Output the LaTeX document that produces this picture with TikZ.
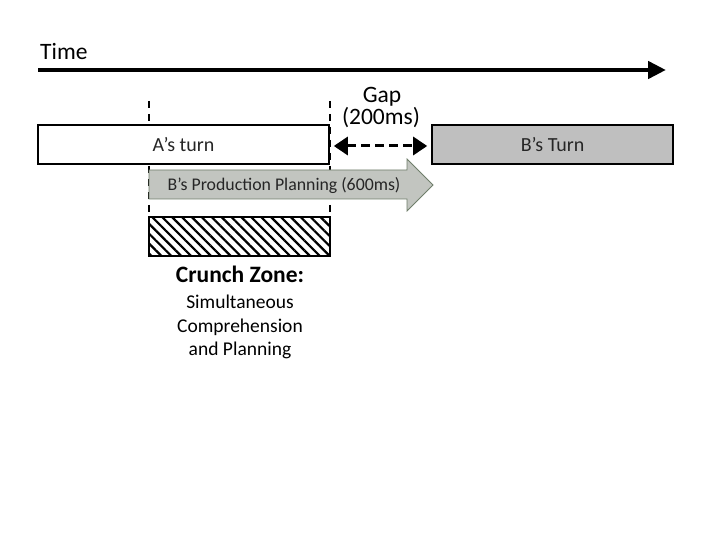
\documentclass[tikz,border=0pt]{standalone}
\usepackage{fontspec}
\setmainfont{Carlito}
\usetikzlibrary{arrows.meta,patterns.meta}
\definecolor{turngray}{HTML}{BFBFBF}
\definecolor{planfill}{HTML}{C2C5C0}
\definecolor{planedge}{HTML}{6F7E6A}
\definecolor{lighttext}{HTML}{262626}
\tikzset{
  turnbox/.style={draw=black, line width=1.6pt, minimum height=39pt, inner sep=0pt, text=lighttext, font=\fontsize{20}{24}\selectfont},
  guide/.style={draw=black, line width=1.4pt, dash pattern=on 7pt off 6pt},
  timearrow/.style={line width=4.5pt, -{Triangle[length=18pt,width=17pt]}},
  gaparrow/.style={line width=3pt, dash pattern=on 9pt off 5pt, {Triangle[length=14pt,width=18pt]}-{Triangle[length=14pt,width=18pt]}},
  bigtext/.style={font=\fontsize{23.5}{28}\selectfont, inner sep=0pt},
  smalltext/.style={font=\fontsize{19.5}{23.5}\selectfont, inner sep=0pt, align=center},
}
\begin{document}
\begin{tikzpicture}[x=1pt,y=-1pt]
\useasboundingbox (0,0) rectangle (720,540);
\fill[white] (0,0) rectangle (720,540);
% time
\node[bigtext, anchor=west] (timelbl) at (40,51) {Time};
\coordinate (t0) at (38,70);
\coordinate (t1) at (666,70);
\draw[timearrow] (t0) -- (t1);
% guides
\coordinate (g1top) at (149,101);
\coordinate (g1bot) at (149,217);
\coordinate (g2top) at (330,101);
\coordinate (g2bot) at (330,217);
\draw[guide] (g1top) -- (g1bot);
\draw[guide] (g2top) -- (g2bot);
% turns
\node[turnbox, fill=white, minimum width=291pt] (A) at (183.5,144.5) {A’s turn};
\node[turnbox, fill=turngray, minimum width=241pt] (B) at (552.5,144.5) {B’s Turn};
% gap
\draw[gaparrow, shorten <=4pt, shorten >=4pt] ([yshift=-1.5pt]A.east) -- ([yshift=-1.5pt]B.west);
\node[bigtext] (gaplbl) at (382,97) {Gap};
\node[bigtext] (gapms) at (381,118) {(200ms)};
% production planning arrow
\draw[fill=planfill, draw=planedge, line width=0.8pt] (149,170) -- (407,170) -- (407,159) -- (433,185) -- (407,211) -- (407,199) -- (149,199) -- cycle;
\node[smalltext, text=lighttext, font=\fontsize{17.8}{20}\selectfont] (plan) at (284,185.5) {B’s Production Planning (600ms)};
% crunch zone
\node[draw=black, line width=2.6pt, minimum width=181pt, minimum height=39pt, inner sep=0pt,
  pattern={Lines[angle=-45,distance=7pt,line width=2.2pt]}] (crunch) at (239.5,236.5) {};
\node[bigtext, font=\fontsize{23.5}{28}\selectfont\bfseries] (crunchlbl) at (240,274) {Crunch Zone:};
\node[smalltext, anchor=north] (crunchdesc) at (240,295) {Simultaneous\\Comprehension\\and Planning};
\end{tikzpicture}
\end{document}
